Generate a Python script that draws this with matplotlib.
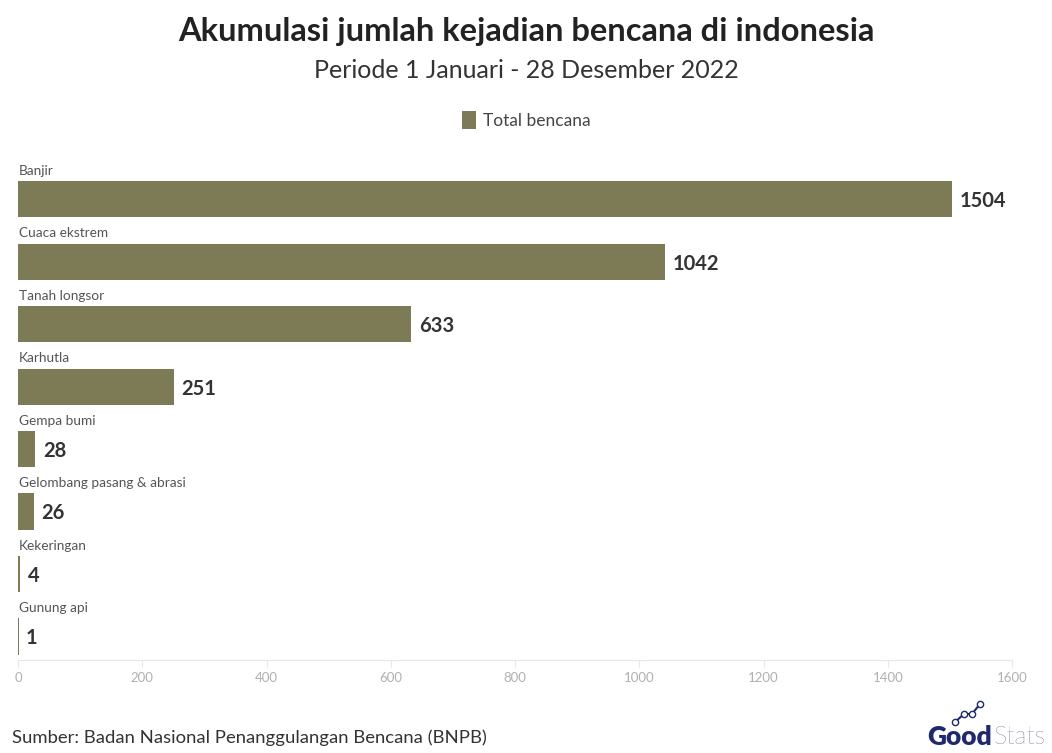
import numpy as np
import matplotlib.pyplot as plt

categories = ["Banjir", "Cuaca ekstrem", "Tanah longsor", "Karhutla", "Gempa bumi",
              "Gelombang pasang & abrasi", "Kekeringan", "Gunung api"]
values = [1504, 1042, 633, 251, 28, 26, 4, 1]
xticks = [0, 200, 400, 600, 800, 1000, 1200, 1400, 1600]

plt.rcParams['font.family'] = ['Lato', 'DejaVu Sans']
bar_color = '#7d7a56'

fig = plt.figure(figsize=(10.52, 7.53), dpi=100)
ax = fig.add_axes([18/1052, 1 - 660/753, (1012 - 18)/1052, (660 - 158)/753])

y = np.arange(len(categories))
ax.barh(y, values, height=0.58, color=bar_color, label='Total bencana')
for yi, cat, v in zip(y, categories, values):
    ax.text(1, yi - 0.36, cat, ha='left', va='bottom', fontsize=9.8, color='#555555')
    ax.text(v + 12, yi + 0.03, str(v), ha='left', va='center', fontsize=14.5,
            fontweight='bold', color='#333333')

ax.set_xlim(0, 1600)
ax.set_ylim(7.376, -0.66)
ax.set_xticks(xticks)
ax.set_xticklabels([str(t) for t in xticks], fontsize=9.5, color='#b0b0b0')
ax.tick_params(axis='x', length=5, color='#e6e6e6', pad=4)
ax.set_yticks([])
for s in ['top', 'right', 'left']:
    ax.spines[s].set_visible(False)
ax.spines['bottom'].set_color('#e6e6e6')

fig.text(0.5, 1 - 32/753, "Akumulasi jumlah kejadian bencana di indonesia", ha='center',
         va='center', fontsize=23.5, fontweight='bold', color='#222222')
fig.text(0.5, 1 - 70/753, "Periode 1 Januari - 28 Desember 2022", ha='center',
         va='center', fontsize=18, color='#333333')
fig.legend(loc='center', bbox_to_anchor=(0.5, 1 - 120/753), frameon=False, fontsize=12.5,
           handlelength=0.8, handleheight=1.3, handletextpad=0.4, labelcolor='#444444')

fig.text(12/1052, 1 - 738/753, "Sumber: Badan Nasional Penanggulangan Bencana (BNPB)",
         ha='left', va='center', fontsize=13.3, color='#333333')

# logo
fig.text(960/1052, 1 - 737/753, "Good", ha='center', va='center', fontsize=19,
         fontweight='heavy', color='#1f2a6e')
fig.text(1020/1052, 1 - 737/753, "Stats", ha='center', va='center', fontsize=18,
         fontweight='light', color='#1f2a6e')
lx = np.array([955, 964, 972, 980]) / 1052
ly = 1 - np.array([722, 714, 714, 704]) / 753
fig.add_artist(plt.Line2D(lx, ly, color='#1f2a6e', lw=1.5, marker='o', ms=4.5,
                          mfc='white', mec='#1f2a6e', transform=fig.transFigure))

fig.savefig('out.png', dpi=100, facecolor='white')
